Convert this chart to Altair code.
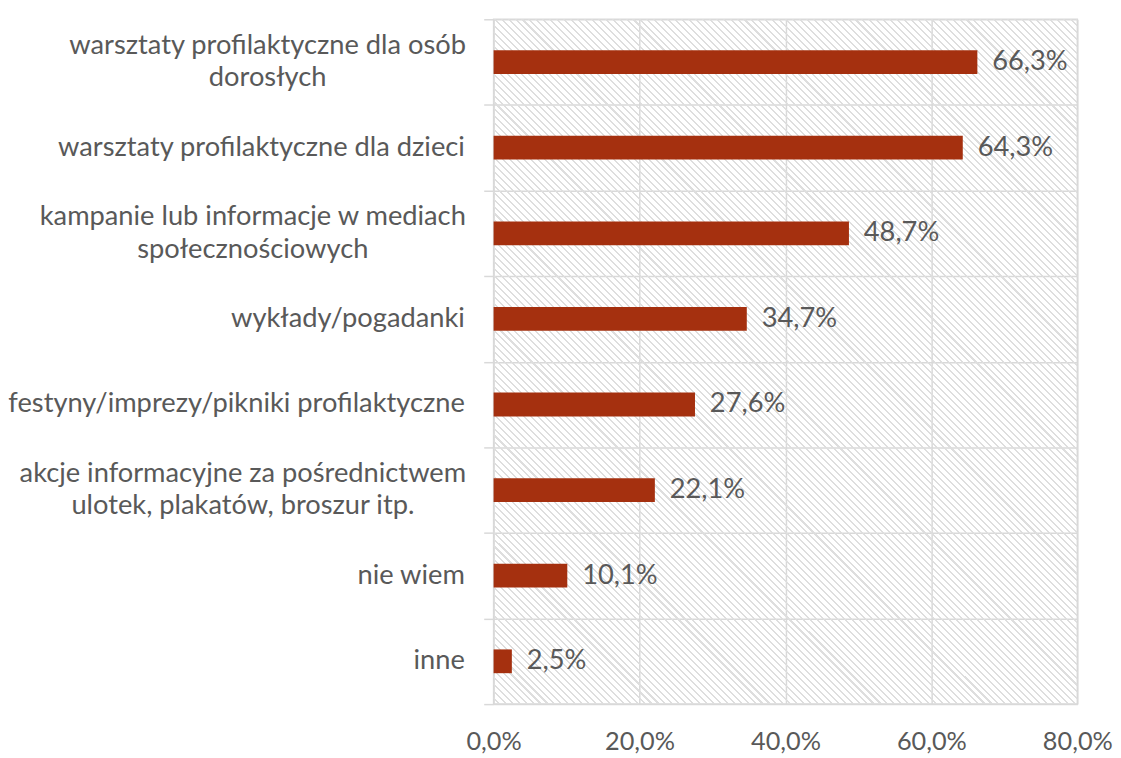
import altair as alt
import pandas as pd

categories = [
    ["warsztaty profilaktyczne dla osób", "dorosłych"],
    ["warsztaty profilaktyczne dla dzieci"],
    ["kampanie lub informacje w mediach", "społecznościowych"],
    ["wykłady/pogadanki"],
    ["festyny/imprezy/pikniki profilaktyczne"],
    ["akcje informacyjne za pośrednictwem", "ulotek, plakatów, broszur itp."],
    ["nie wiem"],
    ["inne"],
]
values = [66.3, 64.3, 48.7, 34.7, 27.6, 22.1, 10.1, 2.5]
x_ticks = [0, 20, 40, 60, 80]

keys = ["|".join(c) for c in categories]
df = pd.DataFrame({
    "cat": keys,
    "value": values,
    "label": [f"{v:.1f}".replace(".", ",") + "%" for v in values],
})

FONT = "Lato"
FS = 27.5
XFS = 25.5
GRAY = "#595959"
GRID = "#d9d9d9"
W, H = 589, 691
LABEL_X = -29  # right edge of category labels, px left of the axis
# half widths of the first line of the two-line labels (centred wrapping)
half_widths = {keys[0]: 199, keys[2]: 214, keys[5]: 224}
multi_test = "indexof(datum.cat, '|') >= 0"

# diagonal hatch background as a striped linear gradient (transparent gaps)
period_px = 7.0
a = W / H
s = (a + 1) / (a * a + 1)
dt = (a / (a * a + 1)) * period_px / W / s
CLEAR = "rgba(255,255,255,0)"
LINE = "#dedede"
FRAC = 0.7
stops = []
t = 0.0
while t < 1.0:
    stops += [
        alt.GradientStop(offset=round(min(t, 1.0), 5), color=CLEAR),
        alt.GradientStop(offset=round(min(t + dt * FRAC, 1.0), 5), color=CLEAR),
        alt.GradientStop(offset=round(min(t + dt * FRAC, 1.0), 5), color=LINE),
        alt.GradientStop(offset=round(min(t + dt, 1.0), 5), color=LINE),
    ]
    t += dt
hatch = alt.LinearGradient(
    gradient="linear", stops=stops, x1=0, y1=1, x2=round(a * s, 4), y2=round(1 - s, 4)
)

y_axis = alt.Axis(
    title=None,
    labels=False,
    tickBand="extent",
    tickSize=10,
    tickColor=GRID,
    tickWidth=1.5,
    grid=True,
    gridColor=GRID,
    gridWidth=1.5,
    domain=False,
)
x_axis = alt.Axis(
    title=None,
    values=x_ticks,
    labelExpr="replace(format(datum.value, '.1f'), '.', ',') + '%'",
    labelFont=FONT,
    labelFontSize=XFS,
    labelColor=GRAY,
    labelPadding=26,
    labelFlush=False,
    ticks=False,
    domain=False,
    grid=True,
    gridColor=GRID,
    gridWidth=1.5,
)
x_scale = alt.Scale(domain=[x_ticks[0], x_ticks[-1]])

y = alt.Y("cat:N", sort=keys, scale=alt.Scale(paddingInner=0, paddingOuter=0), axis=y_axis)

bg = alt.Chart(pd.DataFrame({"x0": [x_ticks[0]], "x1": [x_ticks[-1]]})).mark_rect(
    color=hatch
).encode(x=alt.X("x0:Q", scale=x_scale, axis=x_axis), x2="x1:Q")
bars = alt.Chart(df).mark_bar(color="#A5300F", size=24).encode(
    y=y, x=alt.X("value:Q", scale=x_scale, axis=x_axis)
)
values_text = alt.Chart(df).mark_text(
    align="left", dx=15, font=FONT, fontSize=FS, color=GRAY
).encode(y=alt.Y("cat:N", sort=keys), x="value:Q", text="label:N")

single_labels = alt.Chart(df).transform_filter(f"!({multi_test})").mark_text(
    align="right", baseline="middle", font=FONT, fontSize=FS, color=GRAY
).encode(y=alt.Y("cat:N", sort=keys), x=alt.value(LABEL_X), text="cat:N")

multi_layers = [
    alt.Chart(df).transform_filter(f"datum.cat == '{k}'").mark_text(
        align="center", baseline="middle", font=FONT, fontSize=FS, color=GRAY,
        lineBreak="|", lineHeight=33, dy=-16.5,
    ).encode(y=alt.Y("cat:N", sort=keys), x=alt.value(LABEL_X - hw), text="cat:N")
    for k, hw in half_widths.items()
]

chart = (
    alt.layer(bg, bars, values_text, single_labels, *multi_layers)
    .properties(width=W, height=H, padding={"top": 7, "left": 0, "right": 0, "bottom": 0})
    .configure_view(fill="#ffffff", stroke=GRID, strokeWidth=1.5)
)
chart.save("out.html", embed_options={"renderer": "svg", "actions": False})
